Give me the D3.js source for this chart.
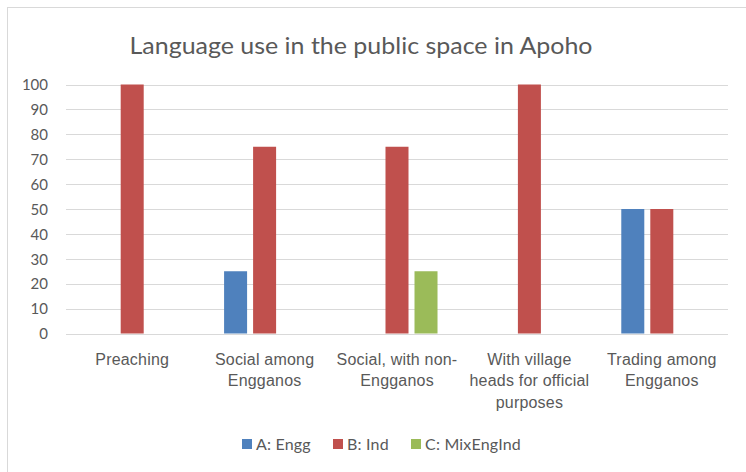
<!DOCTYPE html>
<html>
<head>
<meta charset="utf-8">
<script src="https://cdn.jsdelivr.net/npm/d3@7"></script>
<style>
  html, body { margin: 0; padding: 0; background: #fff; }
  svg { display: block; font-family: Lato, "Open Sans", sans-serif; }
</style>
</head>
<body>
<svg id="chart" width="746" height="472"></svg>
<script>
// Category labels (line breaks as they wrap under the axis)
const categories = [
  "Preaching",
  "Social among\nEngganos",
  "Social, with non-\nEngganos",
  "With village\nheads for official\npurposes",
  "Trading among\nEngganos"
];
const seriesNames = ["A: Engg", "B: Ind", "C: MixEngInd"];
const seriesA = [0, 25, 0, 0, 50];
const seriesB = [100, 75, 75, 100, 50];
const seriesC = [0, 0, 25, 0, 0];
const seriesColors = ["#4f81bd", "#c0504d", "#9bbb59"];
const yTicks = [0, 10, 20, 30, 40, 50, 60, 70, 80, 90, 100];
const title = "Language use in the public space in Apoho";

const values = [seriesA, seriesB, seriesC];
const svg = d3.select("#chart");
const textColor = "#595959";
const gridColor = "#d9d9d9";

// Outer chart frame
svg.append("rect")
  .attr("x", 7.5).attr("y", 7.5)
  .attr("width", 760).attr("height", 480)
  .attr("fill", "none").attr("stroke", gridColor).attr("stroke-width", 1);

// Title
svg.append("text")
  .attr("x", 361).attr("y", 54)
  .attr("text-anchor", "middle")
  .attr("fill", textColor)
  .attr("font-size", 23)
  .attr("textLength", 463)
  .attr("lengthAdjust", "spacingAndGlyphs")
  .text(title);

const plot = { left: 66, right: 728, top: 84.5, bottom: 333.5 };

const x0 = d3.scaleBand()
  .domain(categories)
  .range([plot.left, plot.right])
  .paddingInner(0.388)
  .paddingOuter(0.194);

const x1 = d3.scaleBand()
  .domain(seriesNames)
  .range([0, x0.bandwidth()])
  .paddingInner(0.207)
  .paddingOuter(0);

const y = d3.scaleLinear()
  .domain([0, 100])
  .range([plot.bottom, plot.top]);

// Horizontal gridlines (including the zero baseline)
svg.append("g")
  .selectAll("line")
  .data(yTicks)
  .join("line")
  .attr("x1", plot.left).attr("x2", plot.right)
  .attr("y1", d => Math.round(y(d)) + 0.5)
  .attr("y2", d => Math.round(y(d)) + 0.5)
  .attr("stroke", gridColor)
  .attr("stroke-width", 1);

// Y axis labels
const yAxis = d3.axisLeft(y).tickValues(yTicks).tickSize(0).tickPadding(0);
const yG = svg.append("g")
  .attr("transform", `translate(48,0)`)
  .call(yAxis);
yG.select(".domain").remove();
yG.selectAll("text")
  .attr("fill", textColor)
  .attr("font-size", 15)
  .attr("font-family", "Lato, 'Open Sans', sans-serif")
  .attr("dy", "0.35em");

// Bars
const groups = svg.append("g")
  .selectAll("g")
  .data(categories)
  .join("g")
  .attr("transform", d => `translate(${x0(d)},0)`);

groups.selectAll("rect")
  .data((d, i) => seriesNames.map((s, j) => ({ series: s, j, v: values[j][i] })))
  .join("rect")
  .attr("x", d => x1(d.series))
  .attr("y", d => y(d.v))
  .attr("width", x1.bandwidth())
  .attr("height", d => y(0) - y(d.v))
  .attr("fill", d => seriesColors[d.j]);

// Category labels
const xAxis = d3.axisBottom(x0).tickSize(0).tickPadding(0).tickFormat(() => "");
const xG = svg.append("g")
  .attr("transform", `translate(0,${plot.bottom})`)
  .call(xAxis);
xG.select(".domain").remove();
xG.selectAll(".tick text").remove();
xG.selectAll(".tick")
  .append("text")
  .attr("text-anchor", "middle")
  .attr("fill", textColor)
  .attr("font-size", 16)
  .attr("letter-spacing", 0.2)
  .selectAll("tspan")
  .data(d => d.split("\n"))
  .join("tspan")
  .attr("x", 0)
  .attr("y", (d, i) => 31 + i * 21.5)
  .text(d => d);

// Legend
const legendItems = [
  { name: seriesNames[0], color: seriesColors[0], x: 242 },
  { name: seriesNames[1], color: seriesColors[1], x: 333 },
  { name: seriesNames[2], color: seriesColors[2], x: 411 }
];
const legend = svg.append("g");
const li = legend.selectAll("g")
  .data(legendItems)
  .join("g")
  .attr("transform", d => `translate(${d.x},439)`);
li.append("rect")
  .attr("width", 10).attr("height", 10)
  .attr("fill", d => d.color);
li.append("text")
  .attr("x", 14).attr("y", 10.5)
  .attr("fill", textColor)
  .attr("font-size", 16)
  .attr("letter-spacing", 0.2)
  .text(d => d.name);
</script>
</body>
</html>
